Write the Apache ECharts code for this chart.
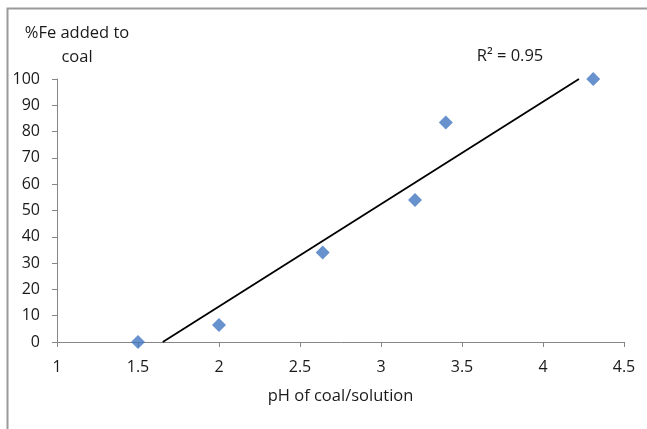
<!DOCTYPE html>
<html>
<head>
<meta charset="utf-8">
<script src="https://cdn.jsdelivr.net/npm/echarts@6/dist/echarts.min.js"></script>
<style>
  html, body { margin: 0; padding: 0; background: #fff; }
  #chart { width: 647px; height: 429px; }
</style>
</head>
<body>
<div id="chart"></div>
<script>
// pH of the coal/solution and the share of Fe taken up by the coal
const phValues = [1.5, 2.0, 2.64, 3.21, 3.4, 4.31];
const feAdded = [0, 6.5, 34, 54, 83.5, 100];

const xMin = 1, xMax = 4.5, xStep = 0.5;
const yMin = 0, yMax = 100, yStep = 10;

const FONT = '"Open Sans", Lato, sans-serif';
const TEXT = '#1a1a1a';
const AXIS = '#868686';

// least-squares linear trendline and its R²
const n = phValues.length;
const mx = phValues.reduce((a, b) => a + b, 0) / n;
const my = feAdded.reduce((a, b) => a + b, 0) / n;
let sxx = 0, sxy = 0, syy = 0;
for (let i = 0; i < n; i++) {
  const dx = phValues[i] - mx, dy = feAdded[i] - my;
  sxx += dx * dx; sxy += dx * dy; syy += dy * dy;
}
const slope = sxy / sxx;
const intercept = my - slope * mx;
const r2 = (sxy * sxy) / (sxx * syy);

// trendline endpoints kept inside the plotted range
const xAt = y => (y - intercept) / slope;
const x0 = Math.max(xMin, xAt(yMin));
const x1 = Math.min(xMax, xAt(yMax));
const trend = [[x0, slope * x0 + intercept], [x1, slope * x1 + intercept]];

const chart = echarts.init(document.getElementById('chart'), null, { renderer: 'canvas' });
chart.setOption({
  animation: false,
  backgroundColor: '#fff',
  textStyle: { fontFamily: FONT },
  grid: { left: 57, right: 23, top: 79, bottom: 87, containLabel: false },
  xAxis: {
    type: 'value', min: xMin, max: xMax, interval: xStep,
    name: 'pH of coal/solution', nameLocation: 'middle', nameGap: 46,
    nameTextStyle: { fontFamily: FONT, fontSize: 16.5, color: TEXT },
    axisLine: { show: true, lineStyle: { color: AXIS, width: 1 } },
    axisTick: { show: true, length: 5, lineStyle: { color: AXIS } },
    axisLabel: { fontFamily: FONT, fontSize: 16, color: TEXT, margin: 17 },
    splitLine: { show: false }
  },
  yAxis: {
    type: 'value', min: yMin, max: yMax, interval: yStep,
    axisLine: { show: true, onZero: false, lineStyle: { color: AXIS, width: 1 } },
    axisTick: { show: true, length: 5, lineStyle: { color: AXIS } },
    axisLabel: { fontFamily: FONT, fontSize: 16, color: TEXT, margin: 17 },
    splitLine: { show: false }
  },
  graphic: [
    {
      type: 'rect', silent: true, z: -1,
      shape: { x: 7.5, y: 8.5, width: 700, height: 500 },
      style: { fill: 'none', stroke: '#9a9a9a', lineWidth: 2 }
    },
    {
      type: 'text', x: 77, y: 33,
      style: { text: '%Fe added to', font: '16.5px ' + FONT, fill: TEXT, align: 'center', verticalAlign: 'middle' }
    },
    {
      type: 'text', x: 77, y: 57,
      style: { text: 'coal', font: '16.5px ' + FONT, fill: TEXT, align: 'center', verticalAlign: 'middle' }
    },
    {
      type: 'text', x: 510, y: 56,
      style: { text: 'R² = ' + r2.toFixed(2), font: '16.5px ' + FONT, fill: TEXT, align: 'center', verticalAlign: 'middle' }
    }
  ],
  series: [
    {
      type: 'line', data: trend, showSymbol: false, symbol: 'none',
      lineStyle: { color: '#000', width: 1.8 }, z: 2, silent: true
    },
    {
      type: 'scatter', symbol: 'diamond', symbolSize: 14,
      data: phValues.map((x, i) => [x, feAdded[i]]),
      itemStyle: { color: '#4277C2' }, z: 3
    }
  ]
});
</script>
</body>
</html>
